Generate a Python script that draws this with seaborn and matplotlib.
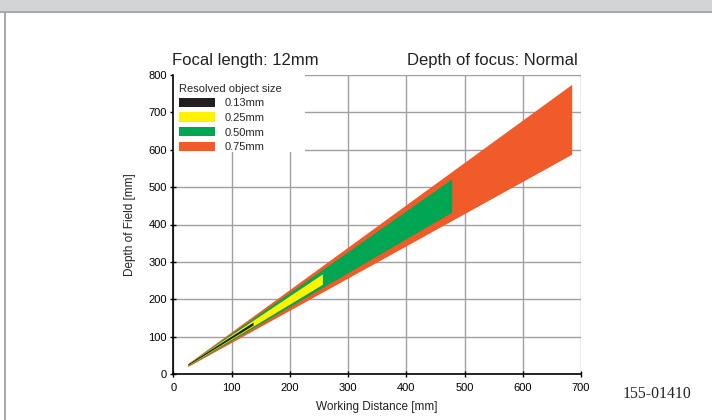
import numpy as np
import pandas as pd
import seaborn as sns
import matplotlib
matplotlib.use("Agg")
import matplotlib.pyplot as plt
from matplotlib.patches import Patch, Rectangle

# ---- data ----
sizes = ["0.13mm", "0.25mm", "0.50mm", "0.75mm"]
colors = ["#231f20", "#fff200", "#00a651", "#f15a29"]
wd_min = [25, 25, 25, 25]
wd_max = [137, 256, 478, 684]
dof_upper_min = [27, 27, 27, 28]
dof_lower_min = [24, 23, 22, 20]
dof_upper_max = [139, 268, 522, 775]
dof_lower_max = [131, 240, 433, 588]
x_ticks = [0, 100, 200, 300, 400, 500, 600, 700]
y_ticks = [0, 100, 200, 300, 400, 500, 600, 700, 800]

sns.set_theme(style="white")
plt.rcParams['font.family'] = ['Liberation Sans', 'DejaVu Sans']

W, H = 712, 420
fig = plt.figure(figsize=(W / 100, H / 100), dpi=100)
fig.patch.set_facecolor("white")

# header bar & frame
fig.patches.append(Rectangle((0, (H - 11) / H), 1, 11 / H, transform=fig.transFigure,
                             facecolor="#d3d4d6", edgecolor="none", zorder=0))
fig.patches.append(Rectangle((0, (H - 12.5) / H), 1, 1.5 / H, transform=fig.transFigure,
                             facecolor="#a7a9ac", edgecolor="none", zorder=0))
fig.patches.append(Rectangle((4 / W, 0), 1.5 / W, (H - 11) / H, transform=fig.transFigure,
                             facecolor="#a7a9ac", edgecolor="none", zorder=0))

x0, x1 = 173.3, 581.0
y0, y1 = 374.0, 75.0
ax = fig.add_axes([x0 / W, (H - y0) / H, (x1 - x0) / W, (y0 - y1) / H])
ax.set_facecolor("white")

df = pd.DataFrame({"size": sizes, "color": colors, "wd_min": wd_min, "wd_max": wd_max,
                   "up_min": dof_upper_min, "lo_min": dof_lower_min,
                   "up_max": dof_upper_max, "lo_max": dof_lower_max})
for _, r in df.iloc[::-1].iterrows():
    ax.fill_between([r.wd_min, r.wd_max], [r.lo_min, r.lo_max], [r.up_min, r.up_max],
                    color=r.color, linewidth=0, zorder=3)

ax.set_xlim(0, 700)
ax.set_ylim(0, 800)
ax.set_xticks(x_ticks)
ax.set_yticks(y_ticks)
ax.grid(True, color="#a0a0a0", linewidth=1.0, zorder=1)
ax.set_axisbelow(True)
for s in ["top", "right"]:
    ax.spines[s].set_visible(False)
for s in ["left", "bottom"]:
    ax.spines[s].set_color("black")
    ax.spines[s].set_linewidth(1.2)
    ax.spines[s].set_zorder(5)
ax.tick_params(axis="both", direction="inout", length=5, width=1, color="black",
               labelsize=8, pad=2, labelcolor="black")
ax.tick_params(axis="x", pad=4)
ax.tick_params(bottom=True, left=True)

ax.set_xlabel("Working Distance [mm]", fontsize=8.5, color="#222222", labelpad=6)
ax.set_ylabel("Depth of Field [mm]", fontsize=8.5, color="#222222", labelpad=9)

# white legend background covering grid
ax.add_patch(Rectangle((0, (y0 - 152) / (y0 - y1)), (305 - x0) / (x1 - x0), 1,
                       transform=ax.transAxes, facecolor="white", edgecolor="none",
                       zorder=2, clip_on=False))

handles = [Patch(facecolor=c, edgecolor="none", label=s) for s, c in zip(sizes, colors)]
leg = ax.legend(handles=handles, title="Resolved object size", loc="upper left",
                bbox_to_anchor=((179 - x0) / (x1 - x0), (y0 - 83.5) / (y0 - y1)),
                borderaxespad=0, borderpad=0, frameon=False, fontsize=8,
                title_fontsize=8, handlelength=3.2, handleheight=0.9,
                labelspacing=0.38, handletextpad=0.9, alignment="left")
leg.set_zorder(6)

fig.text(172 / W, (H - 60) / H, "Focal length: 12mm", fontsize=12, ha="left", va="center",
         color="#222222")
fig.text(578 / W, (H - 60) / H, "Depth of focus: Normal", fontsize=12, ha="right",
         va="center", color="#222222")
fig.text(623 / W, (H - 393.7) / H, "155-01410", fontsize=11.3, ha="left", va="center",
         family=["Liberation Serif", "DejaVu Serif"], color="#222222")

fig.savefig("out.png", dpi=100)
